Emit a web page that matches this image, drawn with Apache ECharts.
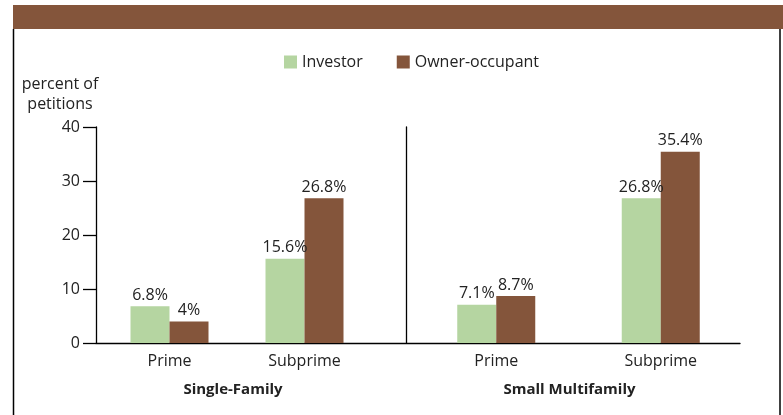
<!DOCTYPE html>
<html>
<head>
<meta charset="utf-8">
<script src="https://cdn.jsdelivr.net/npm/echarts@6/dist/echarts.min.js"></script>
<style>
  html, body { margin: 0; padding: 0; background: #fff; }
  #chart { width: 783px; height: 415px; }
</style>
</head>
<body>
<div id="chart"></div>
<script>
  const categories = ['Prime', 'Subprime'];
  const groups = ['Single-Family', 'Small Multifamily'];
  const singleInvestor = [6.8, 15.6];
  const singleOwner = [4, 26.8];
  const multiInvestor = [7.1, 26.8];
  const multiOwner = [8.7, 35.4];
  const yTicks = [0, 10, 20, 30, 40];

  const green = '#b5d5a1';
  const brown = '#84553b';
  const ink = '#222';
  const font = 'Open Sans';

  const chart = echarts.init(document.getElementById('chart'));

  const barSeries = (name, data, idx, color) => ({
    name: name,
    type: 'bar',
    xAxisIndex: idx,
    yAxisIndex: idx,
    data: data,
    barWidth: 39,
    barGap: '0%',
    itemStyle: { color: color },
    label: {
      show: true,
      position: 'top',
      distance: 3,
      formatter: '{c}%',
      color: ink,
      fontFamily: font,
      fontSize: 16
    }
  });

  const hiddenY = (idx, showLine, offset) => ({
    type: 'value',
    gridIndex: idx,
    min: yTicks[0],
    max: yTicks[yTicks.length - 1],
    interval: 10,
    offset: offset || 0,
    axisLine: { show: showLine, lineStyle: { color: '#000', width: 1.3 } },
    axisTick: { show: false },
    axisLabel: { show: false },
    splitLine: { show: false }
  });

  // group name sits a bit left of the grid centre in the original
  const groupX = (idx, name, shift) => ({
    type: 'category',
    gridIndex: idx,
    data: categories,
    axisLine: { show: false },
    axisTick: { show: false },
    axisLabel: { color: ink, fontFamily: font, fontSize: 16, margin: 10 },
    name: name,
    nameLocation: 'middle',
    nameGap: 39,
    nameTextStyle: { color: ink, fontFamily: font, fontSize: 15, fontWeight: 'bold', padding: [0, shift, 0, 0] }
  });

  chart.setOption({
    backgroundColor: '#fff',
    animation: false,
    title: {
      text: 'percent of\npetitions',
      left: 55,
      top: 69,
      textAlign: 'center',
      textStyle: { color: ink, fontFamily: font, fontSize: 16, fontWeight: 'normal', lineHeight: 20 }
    },
    legend: {
      data: ['Investor', 'Owner-occupant'],
      left: 279,
      top: 49,
      itemWidth: 13,
      itemHeight: 13,
      itemGap: 34,
      icon: 'rect',
      textStyle: { color: ink, fontFamily: font, fontSize: 16 }
    },
    grid: [
      { left: 96, right: 43, top: 127, bottom: 72 },
      { left: 102, width: 270, top: 127, bottom: 72 },
      { left: 414, width: 329, top: 127, bottom: 72 }
    ],
    xAxis: [
      {
        type: 'value',
        gridIndex: 0,
        min: 0,
        max: 1,
        axisLine: { show: true, lineStyle: { color: '#000', width: 1.3 } },
        axisTick: { show: false },
        axisLabel: { show: false },
        splitLine: { show: false }
      },
      groupX(1, groups[0], 8),
      groupX(2, groups[1], 18)
    ],
    yAxis: [
      {
        type: 'value',
        gridIndex: 0,
        min: yTicks[0],
        max: yTicks[yTicks.length - 1],
        interval: 10,
        axisLine: { show: true, lineStyle: { color: '#000', width: 1.3 } },
        axisTick: { show: true, inside: false, length: 13, lineStyle: { color: '#000', width: 1.3 } },
        axisLabel: { color: ink, fontFamily: font, fontSize: 16, margin: 16 },
        splitLine: { show: false }
      },
      hiddenY(1, false),
      hiddenY(2, true, 8)
    ],
    graphic: [
      { type: 'rect', shape: { x: 13, y: 5, width: 770, height: 24 }, style: { fill: brown } },
      { type: 'line', shape: { x1: 13.5, y1: 29, x2: 13.5, y2: 415 }, style: { stroke: '#000', lineWidth: 1.5 } },
      { type: 'line', shape: { x1: 780, y1: 29, x2: 780, y2: 415 }, style: { stroke: '#000', lineWidth: 1.5 } }
    ],
    series: [
      barSeries('Investor', singleInvestor, 1, green),
      barSeries('Owner-occupant', singleOwner, 1, brown),
      barSeries('Investor', multiInvestor, 2, green),
      barSeries('Owner-occupant', multiOwner, 2, brown)
    ]
  });
</script>
</body>
</html>
